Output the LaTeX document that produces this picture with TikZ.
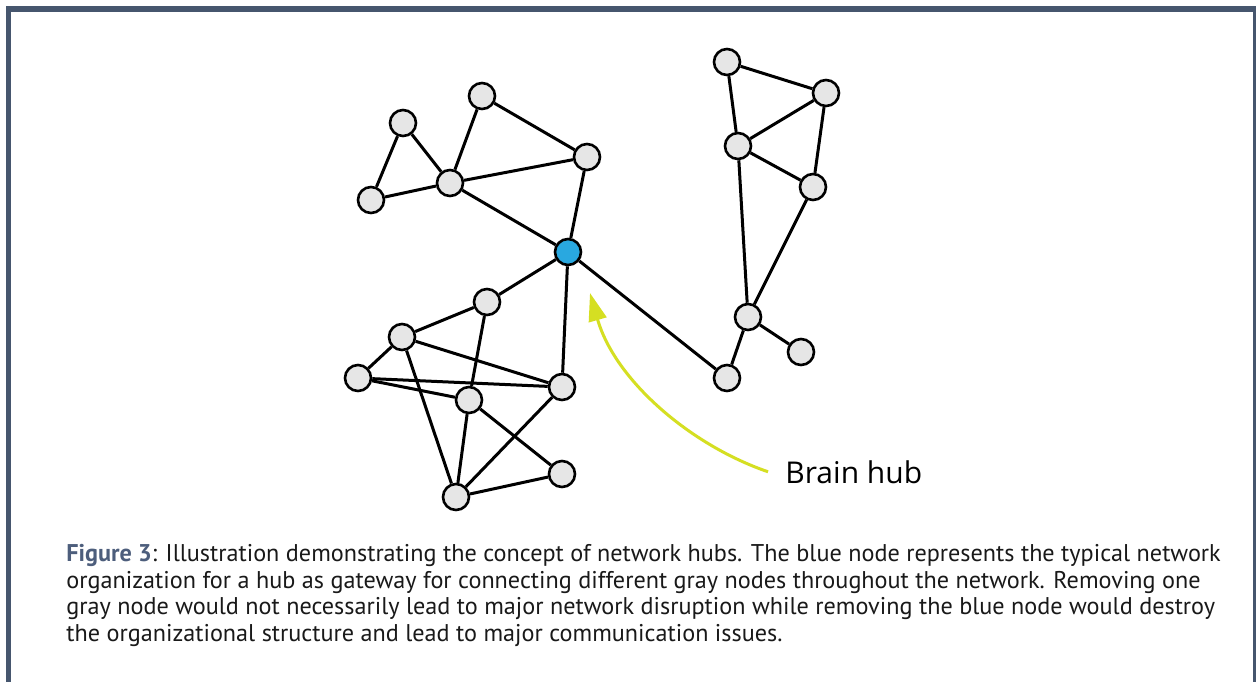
\documentclass[tikz,border=0pt]{standalone}
\usepackage{fontspec}
\usepackage{tikz}
\usetikzlibrary{positioning, arrows.meta}
\newfontfamily\capfont{PT Sans}
\newfontfamily\labfont{Open Sans}
\definecolor{framecol}{HTML}{46566E}
\definecolor{figcol}{HTML}{4D5E7C}
\definecolor{nodegray}{HTML}{E6E6E6}
\definecolor{hubblue}{HTML}{29A8E0}
\definecolor{arrowcol}{HTML}{D5DF22}

\begin{document}
\begin{tikzpicture}[
    x=0.5pt, y=-0.5pt,
    gnode/.style={circle, draw, line width=1.3pt, minimum size=13pt, inner sep=0pt, fill=nodegray},
    hub/.style={circle, draw, line width=1.3pt, minimum size=13pt, inner sep=0pt, fill=hubblue},
    link/.style={line width=1.5pt},
    pointer/.style={line width=1.5pt, draw=arrowcol, -{Triangle[length=14pt, width=9pt]}}
]

% Page and frame
\fill[white] (0,0) rectangle (1256,682);
\useasboundingbox (0,0) rectangle (1256,682);
\fill[framecol] (6,6) rectangle (1256,12);
\fill[framecol] (6,6) rectangle (11,682);
\fill[framecol] (1253,12) rectangle (1256,682);

% Hub
\node[hub] (hub) at (568,252) {};

% Top-left cluster
\node[gnode] (a) at (403,123) {};
\node[gnode] (b) at (371,200) {};
\node[gnode] (c) at (450,183) {};
\node[gnode] (d) at (482,96) {};
\node[gnode] (e) at (587,157) {};

% Right cluster
\node[gnode] (f) at (727,62) {};
\node[gnode] (g) at (826,93) {};
\node[gnode] (h) at (738,146) {};
\node[gnode] (i) at (813,187) {};
\node[gnode] (j) at (748,317) {};
\node[gnode] (k) at (801,352) {};
\node[gnode] (l) at (727,378) {};

% Bottom cluster
\node[gnode] (m) at (487,302) {};
\node[gnode] (n) at (402,337) {};
\node[gnode] (o) at (358,378) {};
\node[gnode] (p) at (469,400) {};
\node[gnode] (q) at (562,387) {};
\node[gnode] (r) at (562,474) {};
\node[gnode] (s) at (456,497) {};

% Connections
\foreach \u/\v in {a/b, a/c, b/c, c/d, d/e, c/e, c/hub, e/hub} {
    \draw[link] (\u) -- (\v);
}
\foreach \u/\v in {f/g, f/h, h/g, h/i, g/i, h/j, i/j, j/k, j/l, l/hub} {
    \draw[link] (\u) -- (\v);
}
\foreach \u/\v in {hub/m, hub/q, m/n, m/p, n/o, n/q, n/s, o/q, o/p, p/s, p/r, q/s, s/r} {
    \draw[link] (\u) -- (\v);
}

% Label and pointer
\node[anchor=base west, inner xsep=8.5pt, inner ysep=0pt, font=\labfont\fontsize{15pt}{17pt}\selectfont] (lab) at (768,483) {Brain hub};
\coordinate (tip) at (590,293);
\draw[pointer] (lab.west) .. controls (690,445) and (615,380) .. (tip);

% Caption
\node[anchor=base west, inner sep=0pt, align=left, font=\capfont\fontsize{12.1pt}{13.2pt}\selectfont, text=black!90] (cap) at (66,641)
{\textcolor{figcol}{\textbf{Figure 3}}: Illustration demonstrating the concept of network hubs. The blue node represents the typical network\\
organization for a hub as gateway for connecting different gray nodes throughout the network. Removing one\\
gray node would not necessarily lead to major network disruption while removing the blue node would destroy\\
the organizational structure and lead to major communication issues.};

\end{tikzpicture}
\end{document}
